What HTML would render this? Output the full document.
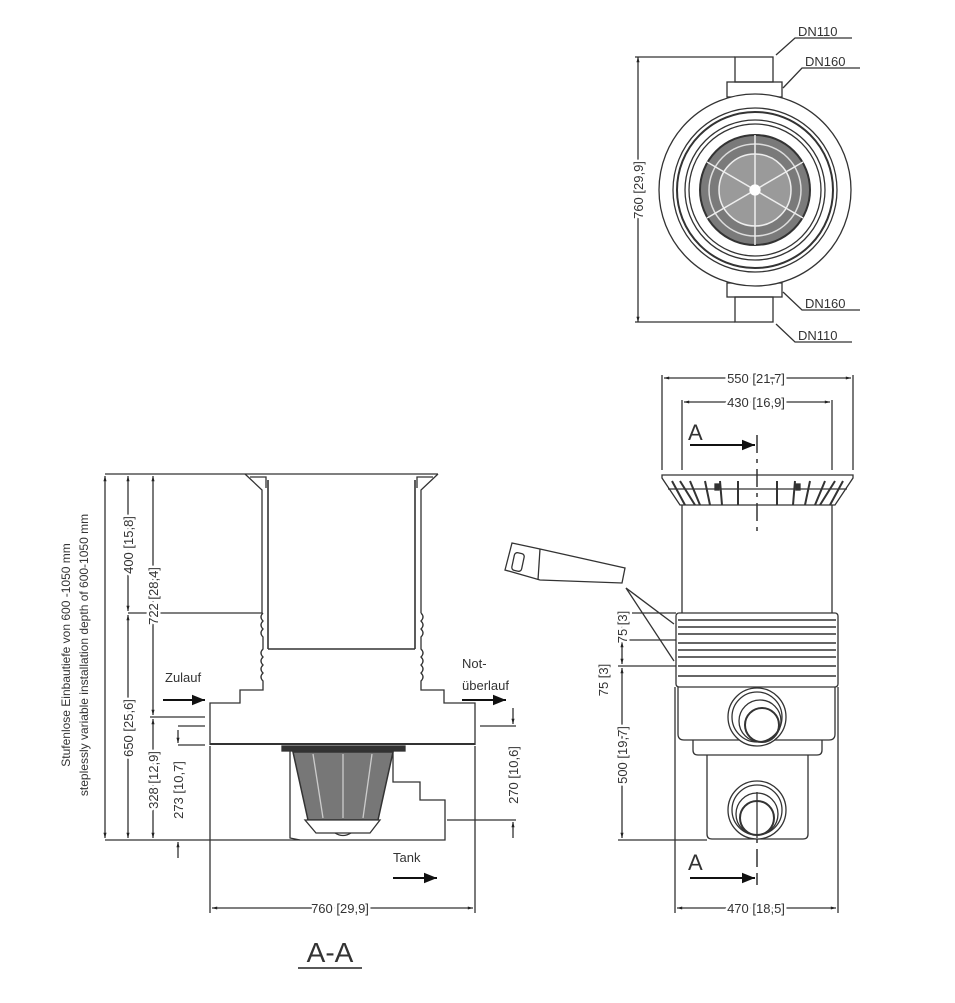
<!DOCTYPE html>
<html><head><meta charset="utf-8"><style>
html,body{margin:0;padding:0;background:#fff;}
svg{display:block;}
text{font-family:"Liberation Sans",sans-serif;fill:#333;}
.h text{stroke:#fff;stroke-width:5px;paint-order:stroke;stroke-linejoin:round;}
</style></head><body>
<svg width="955" height="1003" viewBox="0 0 955 1003" xmlns="http://www.w3.org/2000/svg">
<defs>
<marker id="a" viewBox="0 0 10 10" refX="10" refY="5" markerWidth="6" markerHeight="4" orient="auto-start-reverse"><path d="M0,2 L10,5 L0,8 z" fill="#222"/></marker>
<marker id="b" viewBox="0 0 10 10" refX="10" refY="5" markerWidth="8" markerHeight="6.5" orient="auto"><path d="M0,1 L10,5 L0,9 z" fill="#111"/></marker>
</defs>
<g stroke="#333" fill="none" stroke-width="1.3">

<line x1="635" y1="57" x2="735" y2="57"/>
<line x1="635" y1="322" x2="735" y2="322"/>
<line x1="638" y1="57" x2="638" y2="322" marker-start="url(#a)" marker-end="url(#a)"/>
<rect x="735" y="57" width="38" height="25"/>
<rect x="727" y="82" width="55" height="15"/>
<rect x="727" y="283" width="55" height="14"/>
<rect x="735" y="297" width="38" height="25"/>
<circle cx="755" cy="190" r="96" fill="#fff"/>
<circle cx="755" cy="190" r="82"/>
<circle cx="755" cy="190" r="78" stroke-width="2"/>
<circle cx="755" cy="190" r="70"/>
<circle cx="755" cy="190" r="66"/>
<circle cx="755" cy="190" r="55" fill="#7a7a7a" stroke-width="2"/>
<circle cx="755" cy="190" r="46" fill="none" stroke="#ddd" stroke-width="1.5"/>
<circle cx="755" cy="190" r="36" fill="#9a9a9a" stroke="#eee" stroke-width="1.5"/>
<g stroke="#eee" stroke-width="1.5">
<line x1="755" y1="135" x2="755" y2="245"/>
<line x1="707" y1="162" x2="803" y2="218"/>
<line x1="707" y1="218" x2="803" y2="162"/>
</g>
<circle cx="755" cy="190" r="5" fill="#fff" stroke="#fff"/>
<polyline points="776,55 795,38 852,38"/>
<polyline points="783,88 802,68 860,68"/>
<polyline points="783,292 802,310 860,310"/>
<polyline points="776,324 795,342 852,342"/>

<path d="M245,474 L438,474"/>
<path d="M245,474 L262,490 L262,613 M438,474 L421,490 L421,613"/>
<path d="M250,477 L266,477 L266,488 M433,477 L417,477 L417,488" />
<line x1="268" y1="480" x2="268" y2="649" stroke-width="1.6"/>
<line x1="415" y1="480" x2="415" y2="649" stroke-width="1.6"/>
<line x1="268" y1="649" x2="415" y2="649" stroke-width="1.6"/>
<path d="M263,613 q-4,4 0,8 q-4,4 0,8 q-4,4 0,8 L263,649 q-4,4 0,8 q-4,4 0,8 q-4,4 0,8 q-4,4 0,8 L263,690 L240,690 L240,703 L210,703 L210,745"/>
<path d="M421,613 q4,4 0,8 q4,4 0,8 q4,4 0,8 L421,649 q4,4 0,8 q4,4 0,8 q4,4 0,8 q4,4 0,8 L421,690 L444,690 L444,703 L475,703 L475,745"/>
<line x1="210" y1="744" x2="475" y2="744" stroke-width="2"/>
<path d="M290,746 L290,838 L300,840"/>
<path d="M393,752 L393,782 L420,782 L420,800 L445,800 L445,840 L290,840"/>
<rect x="282" y="746" width="123" height="5" fill="#333"/>
<path d="M293,752 L393,752 L378,820 L308,820 Z" fill="#777" stroke-width="1.5"/>
<g stroke="#ccc"><line x1="313" y1="754" x2="323" y2="818"/><line x1="372" y1="754" x2="363" y2="818"/><line x1="343" y1="754" x2="343" y2="818"/></g>
<path d="M305,820 L380,820 L370,833 L316,833 Z" fill="#fff"/>
<path d="M335,833 q8,5 16,0" />
<line x1="105" y1="840" x2="290" y2="840"/>
<line x1="105" y1="474" x2="245" y2="474"/>
<line x1="128" y1="613" x2="262" y2="613"/>
<line x1="150" y1="717" x2="205" y2="717"/>
<line x1="178" y1="726" x2="205" y2="726"/>
<line x1="178" y1="745" x2="205" y2="745"/>
<line x1="105" y1="476" x2="105" y2="838" marker-start="url(#a)" marker-end="url(#a)"/>
<line x1="128" y1="476" x2="128" y2="611" marker-start="url(#a)" marker-end="url(#a)"/>
<line x1="128" y1="615" x2="128" y2="838" marker-start="url(#a)" marker-end="url(#a)"/>
<line x1="153" y1="476" x2="153" y2="715" marker-start="url(#a)" marker-end="url(#a)"/>
<line x1="153" y1="719" x2="153" y2="838" marker-start="url(#a)" marker-end="url(#a)"/>
<line x1="178" y1="730" x2="178" y2="743" marker-end="url(#a)"/>
<line x1="178" y1="858" x2="178" y2="842" marker-end="url(#a)"/>
<line x1="480" y1="726" x2="516" y2="726"/>
<line x1="447" y1="820" x2="516" y2="820"/>
<line x1="513" y1="708" x2="513" y2="724" marker-end="url(#a)"/>
<line x1="513" y1="838" x2="513" y2="822" marker-end="url(#a)"/>
<line x1="210" y1="746" x2="210" y2="913"/>
<line x1="475" y1="746" x2="475" y2="913"/>
<line x1="212" y1="908" x2="473" y2="908" marker-start="url(#a)" marker-end="url(#a)"/>
<line x1="163" y1="700" x2="205" y2="700" stroke="#111" stroke-width="2" marker-end="url(#b)"/>
<line x1="462" y1="700" x2="506" y2="700" stroke="#111" stroke-width="2" marker-end="url(#b)"/>
<line x1="393" y1="878" x2="437" y2="878" stroke="#111" stroke-width="2" marker-end="url(#b)"/>
<line x1="298" y1="968" x2="362" y2="968" stroke="#222" stroke-width="1.5"/>

<line x1="662" y1="375" x2="662" y2="470"/>
<line x1="853" y1="375" x2="853" y2="470"/>
<line x1="664" y1="378" x2="851" y2="378" marker-start="url(#a)" marker-end="url(#a)"/>
<line x1="682" y1="400" x2="682" y2="470"/>
<line x1="832" y1="400" x2="832" y2="470"/>
<line x1="684" y1="402" x2="830" y2="402" marker-start="url(#a)" marker-end="url(#a)"/>
<path d="M662,475 L853,475 L853,478 L835,505 L680,505 L662,478 Z"/>
<line x1="668" y1="489" x2="847" y2="489"/>
<g stroke-width="2">
<path d="M672,481 L685,505 M680,481 L695,505 M690,481 L700,505 M705,481 L710,505 M720,481 L722,505 M738,481 L738,505"/>
<path d="M843,481 L830,505 M835,481 L820,505 M825,481 L815,505 M810,481 L805,505 M795,481 L793,505 M777,481 L777,505"/>
</g>
<rect x="715" y="484" width="4" height="6" fill="#333"/><rect x="796" y="484" width="4" height="6" fill="#333"/>
<line x1="682" y1="505" x2="682" y2="613"/>
<line x1="832" y1="505" x2="832" y2="613"/>
<line x1="757" y1="435" x2="757" y2="535" stroke-dasharray="18,6,4,6" stroke-width="1.5"/>
<line x1="757" y1="825" x2="757" y2="885" stroke-dasharray="18,6" stroke-width="1.5"/>
<line x1="690" y1="445" x2="755" y2="445" stroke="#111" stroke-width="2" marker-end="url(#b)"/>
<line x1="690" y1="878" x2="755" y2="878" stroke="#111" stroke-width="2" marker-end="url(#b)"/>
<rect x="676" y="613" width="162" height="74" rx="3" fill="#fff"/>
<g stroke-width="1.5">
<line x1="678" y1="620" x2="836" y2="620"/><line x1="678" y1="627" x2="836" y2="627"/>
<line x1="678" y1="634" x2="836" y2="634"/><line x1="678" y1="643" x2="836" y2="643"/>
<line x1="678" y1="650" x2="836" y2="650"/><line x1="678" y1="657" x2="836" y2="657"/>
<line x1="678" y1="666" x2="836" y2="666"/><line x1="678" y1="676" x2="836" y2="676"/>
</g>
<path d="M678,687 L678,734 Q678,740 684,740 L829,740 Q835,740 835,734 L835,687"/>
<path d="M693,740 L693,750 Q693,755 698,755 L817,755 Q822,755 822,750 L822,740"/>
<path d="M707,755 L707,834 Q707,839 712,839 L803,839 Q808,839 808,834 L808,755"/>
<line x1="838" y1="687" x2="838" y2="913"/>
<line x1="675" y1="687" x2="675" y2="913"/>
<circle cx="757" cy="717" r="29" fill="#fff"/><circle cx="757" cy="717" r="25"/><circle cx="760" cy="721" r="21"/><circle cx="762" cy="725" r="17" stroke-width="2"/>
<circle cx="757" cy="810" r="29" fill="#fff"/><circle cx="757" cy="810" r="25"/><circle cx="757" cy="814" r="21"/><circle cx="757" cy="818" r="17" stroke-width="2"/>
<line x1="757" y1="792" x2="757" y2="838"/>
<line x1="618" y1="613" x2="676" y2="613"/>
<line x1="618" y1="640" x2="676" y2="640"/>
<line x1="618" y1="666" x2="676" y2="666"/>
<line x1="618" y1="840" x2="707" y2="840"/>
<line x1="622" y1="615" x2="622" y2="638" marker-start="url(#a)" marker-end="url(#a)"/>
<line x1="622" y1="642" x2="622" y2="664" marker-start="url(#a)" marker-end="url(#a)"/>
<line x1="622" y1="668" x2="622" y2="838" marker-start="url(#a)" marker-end="url(#a)"/>
<line x1="677" y1="908" x2="836" y2="908" marker-start="url(#a)" marker-end="url(#a)"/>
<path d="M512,543 L540,549 L625,568 L622,583 L540,580 L505,570 Z" fill="#fff"/>
<rect x="513" y="553" width="10" height="18" rx="3" transform="rotate(12 518 562)"/>
<line x1="540" y1="549" x2="538" y2="580"/>
<line x1="626" y1="588" x2="674" y2="624"/>
<line x1="626" y1="588" x2="674" y2="661"/>
</g>

<g font-size="13">
<text x="798" y="36">DN110</text>
<text x="805" y="66">DN160</text>
<text x="805" y="308">DN160</text>
<text x="798" y="340">DN110</text>
<text x="165" y="682">Zulauf</text>
<text x="462" y="668">Not-</text>
<text x="462" y="690">überlauf</text>
<text x="393" y="862">Tank</text>
<text x="330" y="962" text-anchor="middle" font-size="28">A-A</text>
<text x="688" y="440" font-size="22">A</text>
<text x="688" y="870" font-size="22">A</text>
<text transform="translate(70,655) rotate(-90)" text-anchor="middle" font-size="12">Stufenlose Einbautiefe von 600 -1050 mm</text>
<text transform="translate(88,655) rotate(-90)" text-anchor="middle" font-size="12">steplessly variable installation depth of 600-1050 mm</text>
</g>
<g font-size="13" class="h">
<text transform="translate(643,190) rotate(-90)" text-anchor="middle">760 [29,9]</text>
<text transform="translate(133,545) rotate(-90)" text-anchor="middle">400 [15,8]</text>
<text transform="translate(133,728) rotate(-90)" text-anchor="middle">650 [25,6]</text>
<text transform="translate(158,596) rotate(-90)" text-anchor="middle">722 [28,4]</text>
<text transform="translate(158,780) rotate(-90)" text-anchor="middle">328 [12,9]</text>
<text transform="translate(183,790) rotate(-90)" text-anchor="middle">273 [10,7]</text>
<text transform="translate(518,775) rotate(-90)" text-anchor="middle">270 [10,6]</text>
<text x="340" y="913" text-anchor="middle">760 [29,9]</text>
<text x="756" y="383" text-anchor="middle">550 [21,7]</text>
<text x="756" y="407" text-anchor="middle">430 [16,9]</text>
<text x="756" y="913" text-anchor="middle">470 [18,5]</text>
<text transform="translate(627,627) rotate(-90)" text-anchor="middle">75 [3]</text>
<text transform="translate(608,680) rotate(-90)" text-anchor="middle">75 [3]</text>
<text transform="translate(627,755) rotate(-90)" text-anchor="middle">500 [19,7]</text>
</g>
</svg>
</body></html>
